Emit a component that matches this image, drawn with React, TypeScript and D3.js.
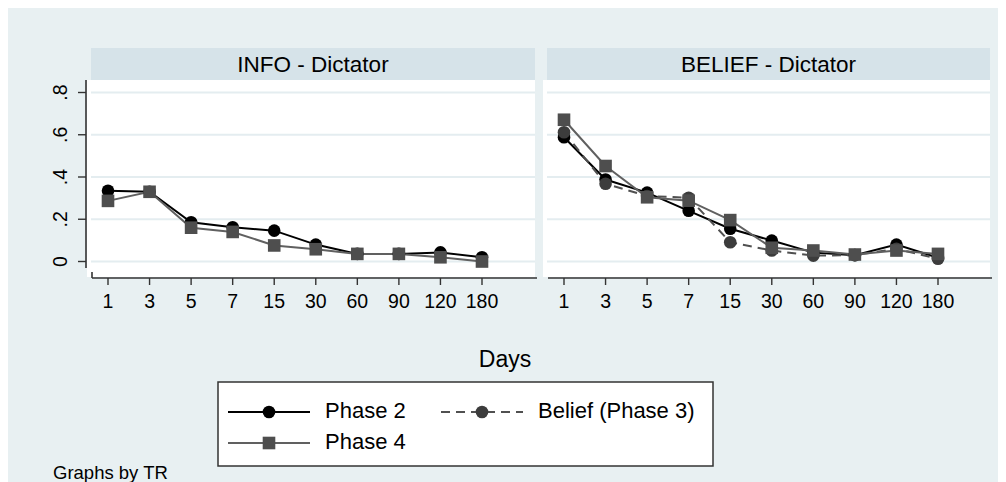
import React from "react";
import * as d3 from "d3";

const days = ["1", "3", "5", "7", "15", "30", "60", "90", "120", "180"];
const yTicks = [0, 0.2, 0.4, 0.6, 0.8];
const yTickLabels = ["0", ".2", ".4", ".6", ".8"];
const panelTitles = ["INFO - Dictator", "BELIEF - Dictator"];

const infoPhase2 = [0.335, 0.33, 0.186, 0.162, 0.146, 0.08, 0.036, 0.036, 0.043, 0.02];
const infoPhase4 = [0.287, 0.33, 0.16, 0.14, 0.076, 0.058, 0.036, 0.036, 0.02, 0.0];
const beliefPhase2 = [0.588, 0.388, 0.326, 0.24, 0.155, 0.099, 0.042, 0.03, 0.08, 0.018];
const beliefPhase3 = [0.612, 0.368, 0.31, 0.302, 0.091, 0.052, 0.028, 0.03, 0.06, 0.013];
const beliefPhase4 = [0.671, 0.452, 0.304, 0.288, 0.196, 0.065, 0.052, 0.033, 0.052, 0.036];

const FONT = "'Liberation Sans', Arial, Helvetica, sans-serif";
const BG = "#e8f0f2";
const HEADER = "#d6e3e9";
const GRID = "#e4edf0";

type Style = { key: string; stroke: string; dash?: string; marker: "circle" | "square"; fill: string; label: string };
const styles: Record<string, Style> = {
  p2: { key: "p2", stroke: "#000000", marker: "circle", fill: "#000000", label: "Phase 2" },
  p3: { key: "p3", stroke: "#505050", dash: "9,6", marker: "circle", fill: "#3c3c3c", label: "Belief (Phase 3)" },
  p4: { key: "p4", stroke: "#606060", marker: "square", fill: "#4e4e4e", label: "Phase 4" },
};

const panels = [
  { title: panelTitles[0], left: 91, right: 535, series: [{ s: styles.p2, v: infoPhase2 }, { s: styles.p4, v: infoPhase4 }] },
  {
    title: panelTitles[1],
    left: 547,
    right: 990,
    series: [
      { s: styles.p2, v: beliefPhase2 },
      { s: styles.p3, v: beliefPhase3 },
      { s: styles.p4, v: beliefPhase4 },
    ],
  },
];

const y = d3.scaleLinear().domain([0, 0.8]).range([261.5, 92.5]);

function Marker({ kind, x, yy, fill }: { kind: string; x: number; yy: number; fill: string }) {
  if (kind === "circle") return <circle cx={x} cy={yy} r={6.3} fill={fill} />;
  return <rect x={x - 6.3} y={yy - 6.3} width={12.6} height={12.6} fill={fill} />;
}

export default function App() {
  return (
    <svg width={998} height={474} style={{ display: "block" }} fontFamily={FONT}>
      <g transform="translate(-8,-8)">
        <rect x={8} y={8} width={998} height={474} fill={BG} />
        {panels.map((p, pi) => {
          const x = d3.scalePoint<string>().domain(days).range([p.left + 17, p.left + 391]).padding(0);
          const line = d3
            .line<number>()
            .x((_, i) => x(days[i]) as number)
            .y((d) => y(d));
          return (
            <g key={pi}>
              <rect x={p.left - 4} y={80} width={p.right - p.left + 4} height={197} fill="#ffffff" />
              <rect x={p.left} y={48} width={p.right - p.left} height={32} fill={HEADER} />
              <text x={(p.left + p.right) / 2} y={72} textAnchor="middle" fontSize={22.5} fill="#000">
                {p.title}
              </text>
              {yTicks.map((t) => (
                <line key={t} x1={p.left} x2={p.right} y1={y(t)} y2={y(t)} stroke={GRID} strokeWidth={2} />
              ))}
              <line x1={p.left + 1} x2={p.right + 2} y1={278} y2={278} stroke="#333" strokeWidth={1.6} />
              {pi === 0 && <line x1={p.left + 1} x2={p.left + 1} y1={272} y2={278} stroke="#333" strokeWidth={1.6} />}
              {days.map((d) => (
                <g key={d}>
                  <line x1={x(d)} x2={x(d)} y1={278} y2={285} stroke="#333" strokeWidth={1.4} />
                  <text x={x(d)} y={308} textAnchor="middle" fontSize={19.5} fill="#000">
                    {d}
                  </text>
                </g>
              ))}
              {p.series.map(({ s, v }) => (
                <path
                  key={s.key + "l"}
                  d={line(v) || ""}
                  fill="none"
                  stroke={s.stroke}
                  strokeWidth={2}
                  strokeDasharray={s.dash}
                />
              ))}
              {p.series.map(({ s, v }) => (
                <g key={s.key + "m"}>
                  {v.map((val, i) => (
                    <Marker key={i} kind={s.marker} x={x(days[i]) as number} yy={y(val)} fill={s.fill} />
                  ))}
                </g>
              ))}
            </g>
          );
        })}
        <line x1={86} x2={86} y1={80} y2={268} stroke="#333" strokeWidth={1.6} />
        {yTicks.map((t, i) => (
          <g key={t}>
            <line x1={78} x2={86} y1={y(t)} y2={y(t)} stroke="#333" strokeWidth={1.4} />
            <text transform={`translate(67,${y(t)}) rotate(-90)`} textAnchor="middle" fontSize={19.5} fill="#000">
              {yTickLabels[i]}
            </text>
          </g>
        ))}
        <text x={505} y={367} textAnchor="middle" fontSize={23} fill="#000">
          Days
        </text>
        <rect x={218} y={382} width={495} height={84} fill="#ffffff" stroke="#333" strokeWidth={1.5} />
        {[
          { s: styles.p2, lx: 228, ly: 412, tx: 325 },
          { s: styles.p3, lx: 441, ly: 412, tx: 538 },
          { s: styles.p4, lx: 228, ly: 443, tx: 325 },
        ].map(({ s, lx, ly, tx }) => (
          <g key={s.key}>
            <line x1={lx} x2={lx + 82} y1={ly} y2={ly} stroke={s.stroke} strokeWidth={2} strokeDasharray={s.dash} />
            <Marker kind={s.marker} x={lx + 41} yy={ly} fill={s.fill} />
            <text x={tx} y={ly + 6} fontSize={22} fill="#000">
              {s.label}
            </text>
          </g>
        ))}
        <text x={53} y={479} fontSize={18.5} fill="#000">
          Graphs by TR
        </text>
      </g>
    </svg>
  );
}
